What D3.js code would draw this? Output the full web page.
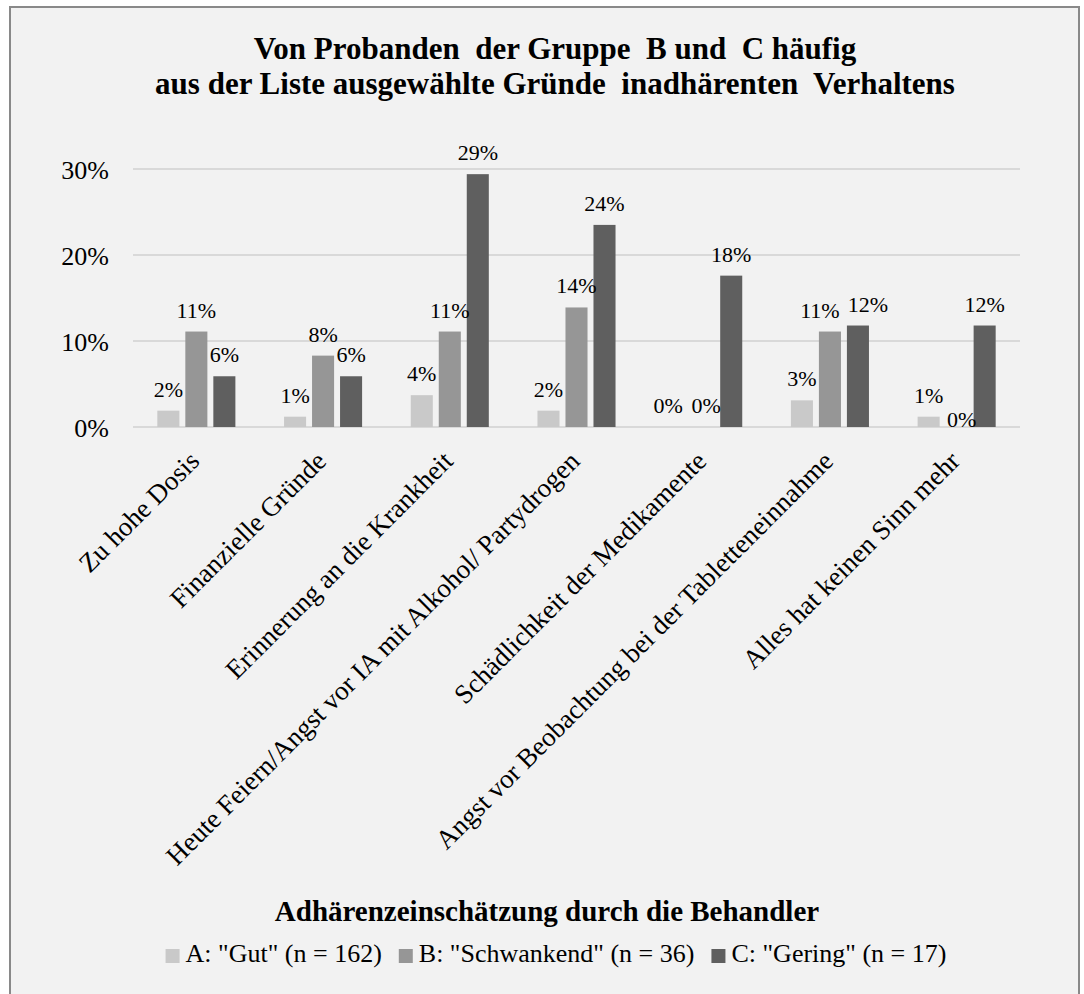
<!DOCTYPE html>
<html>
<head>
<meta charset="utf-8">
<script src="https://cdn.jsdelivr.net/npm/d3@7"></script>
<style>
  body { margin: 0; background: #fff; }
  text { font-family: "Liberation Serif", "Times New Roman", serif; fill: #000; }
</style>
</head>
<body>
<div id="chart"></div>
<script>
// data
var categories = [
    "Zu hohe Dosis",
    "Finanzielle Gründe",
    "Erinnerung an die Krankheit",
    "Heute Feiern/Angst vor IA mit Alkohol/ Partydrogen",
    "Schädlichkeit der Medikamente",
    "Angst vor Beobachtung bei der Tabletteneinnahme",
    "Alles hat keinen Sinn mehr"
];
var seriesNames = ['A: "Gut" (n = 162)', 'B: "Schwankend" (n = 36)', 'C: "Gering" (n = 17)'];
var gutValues = [0.019, 0.012, 0.037, 0.019, 0, 0.031, 0.012];
var schwankendValues = [0.111, 0.083, 0.111, 0.139, 0, 0.111, 0];
var geringValues = [0.059, 0.059, 0.294, 0.235, 0.176, 0.118, 0.118];
var yTicks = [0, 0.1, 0.2, 0.3];
var titleLines = ["Von Probanden  der Gruppe  B und  C häufig", "aus der Liste ausgewählte Gründe  inadhärenten  Verhaltens"];
var legendTitle = "Adhärenzeinschätzung durch die Behandler";

var colors = ["#c9c9c9", "#969696", "#5f5f5f"];
var allSeries = [gutValues, schwankendValues, geringValues];

var width = 1084, height = 994;

var svg = d3.select("#chart").append("svg")
    .attr("width", width)
    .attr("height", height);

// chart frame
svg.append("rect")
    .attr("x", 10).attr("y", 7)
    .attr("width", 1069).attr("height", 1000)
    .attr("fill", "#f2f2f2")
    .attr("stroke", "#898989")
    .attr("stroke-width", 2);

// title
svg.append("g").selectAll("text")
    .data(titleLines).enter()
    .append("text")
    .attr("x", 555)
    .attr("y", function(d, i) { return 59 + i * 35; })
    .attr("text-anchor", "middle")
    .attr("font-weight", "bold")
    .attr("font-size", 31)
    .style("white-space", "pre")
    .text(function(d) { return d; });

// scales
var plotLeft = 133, plotRight = 1020;
var x = d3.scaleBand().domain(categories).range([plotLeft, plotRight]);
var y = d3.scaleLinear().domain([0, 0.3]).range([427, 169]);
var step = x.bandwidth() * 0.221;
var barW = x.bandwidth() * 0.174;

// grid
svg.append("g").selectAll("line")
    .data(yTicks).enter()
    .append("line")
    .attr("x1", plotLeft).attr("x2", plotRight)
    .attr("y1", function(d) { return y(d); })
    .attr("y2", function(d) { return y(d); })
    .attr("stroke", "#d9d9d9")
    .attr("stroke-width", 2);

// y axis (no line, just labels)
var yAxis = d3.axisLeft(y).tickValues(yTicks).tickFormat(d3.format(".0%")).tickSize(0).tickPadding(0);
var yG = svg.append("g")
    .attr("transform", "translate(109,0)")
    .call(yAxis);
yG.select(".domain").remove();
yG.selectAll("text")
    .attr("font-size", 26)
    .attr("font-family", "Liberation Serif")
    .attr("fill", "#000")
    .attr("dy", "0.36em");

// bars
var cx = function(i, s) { return x(categories[i]) + x.bandwidth() / 2 + (s - 1) * step; };
allSeries.forEach(function(vals, s) {
    svg.append("g").selectAll("rect")
        .data(vals).enter()
        .append("rect")
        .attr("x", function(d, i) { return cx(i, s) - barW / 2; })
        .attr("y", function(d) { return y(d); })
        .attr("width", barW)
        .attr("height", function(d) { return y(0) - y(d); })
        .attr("fill", colors[s]);
});

// data labels; a few are moved like Excel does when they collide
var nudge = { "4-0": [-7, 0], "4-1": [3, 0], "5-1": [-10, 0], "5-2": [10, 0], "6-1": [5, 14] };
allSeries.forEach(function(vals, s) {
    svg.append("g").selectAll("text")
        .data(vals).enter()
        .append("text")
        .attr("x", function(d, i) { var n = nudge[i + "-" + s] || [0, 0]; return cx(i, s) + n[0]; })
        .attr("y", function(d, i) { var n = nudge[i + "-" + s] || [0, 0]; return y(d) - 14 + n[1]; })
        .attr("text-anchor", "middle")
        .attr("font-size", 22)
        .text(function(d) { return d3.format(".0%")(d); });
});

// category labels, rotated
svg.append("g").selectAll("text")
    .data(categories).enter()
    .append("text")
    .attr("transform", function(d) {
        return "translate(" + (x(d) + x.bandwidth() / 2 - 2) + "," + 456 + ") rotate(-45)";
    })
    .attr("text-anchor", "end")
    .attr("dy", "0.35em")
    .attr("font-size", 27)
    .text(function(d) { return d; });

// legend title
svg.append("text")
    .attr("x", 547).attr("y", 921)
    .attr("text-anchor", "middle")
    .attr("font-weight", "bold")
    .attr("font-size", 29)
    .text(legendTitle);

// legend items
var legend = svg.append("g");
var items = legend.selectAll("g").data(seriesNames).enter().append("g");
items.append("rect")
    .attr("width", 14).attr("height", 14)
    .attr("y", -13)
    .attr("fill", function(d, i) { return colors[i]; });
items.append("text")
    .attr("x", 20)
    .attr("font-size", 26)
    .text(function(d) { return d; });
var xpos = 0;
items.each(function() {
    var g = d3.select(this);
    g.attr("transform", "translate(" + xpos + ",0)");
    xpos += 20 + g.select("text").node().getComputedTextLength() + 17;
});
xpos -= 17;
legend.attr("transform", "translate(" + (556 - xpos / 2) + ",962)");
</script>
</body>
</html>
